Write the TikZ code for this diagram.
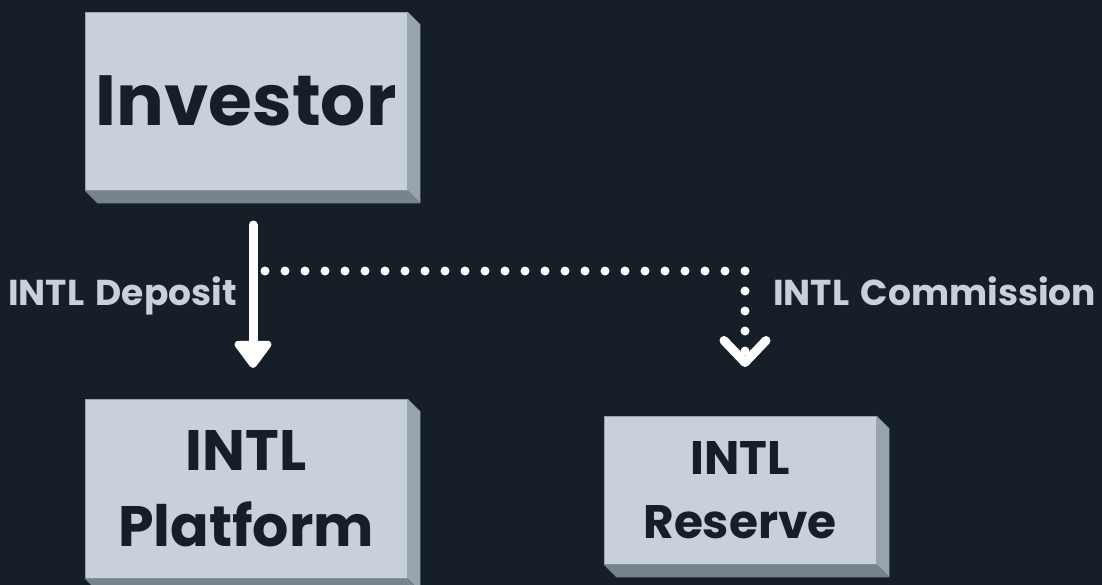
\documentclass[tikz,border=0pt]{standalone}
\usepackage{fontspec}
\setmainfont{Poppins}
\newfontfamily\labelfont{Poppins}[WordSpace=1.5]
\usetikzlibrary{calc,arrows.meta}

\definecolor{bg}{HTML}{161F28}
\definecolor{boxface}{HTML}{C8D0DA}
\definecolor{boxright}{HTML}{97A3AE}
\definecolor{boxbottom}{HTML}{77838D}
\definecolor{ink}{HTML}{161F28}

\tikzset{
  box/.style={fill=boxface,draw=boxright,line width=0.8pt,text=ink,inner sep=0pt,align=center,font=\bfseries},
  flowlabel/.style={text=boxface,inner sep=0pt,font=\labelfont\bfseries\fontsize{36}{40}\selectfont},
  flow/.style={white,line width=9pt,line cap=round,line join=round},
}
\newcommand\boxsides[1]{%
  \fill[boxright] (#1.north east) -- ++(13,13) -- ($(#1.south east)+(13,13)$) -- (#1.south east) -- cycle;
  \fill[boxbottom] (#1.south west) -- ++(13,13) -- ($(#1.south east)+(13,13)$) -- (#1.south east) -- cycle;}

\begin{document}
\begin{tikzpicture}[x=1pt,y=-1pt]
    \clip (0,0) rectangle (1102,585);
    \fill[bg] (0,0) rectangle (1102,585);

    % boxes
    \node[box,minimum width=322pt,minimum height=178pt,font=\bfseries\fontsize{71}{80}\selectfont] (investor) at (246,101) {Investor};
    \node[box,minimum width=322pt,minimum height=179pt,font=\bfseries\fontsize{57}{76}\selectfont] (platform) at (246,488.5) {INTL\\Platform};
    \node[box,minimum width=272pt,minimum height=148pt,font=\bfseries\fontsize{47}{64}\selectfont] (reserve) at (740,490) {INTL\\Reserve};
    \boxsides{investor}
    \boxsides{platform}
    \boxsides{reserve}

    % flows
    \coordinate (depstart) at (253,225);
    \coordinate (depend) at (253,368);
    \coordinate (comstart) at (265,271);
    \coordinate (comcorner) at (745,271);
    \coordinate (comend) at (745,367);
    \draw[flow,-{Triangle[length=30pt,width=42pt,round]}] (depstart)--(depend);
    \draw[flow,dash pattern=on 0pt off 20pt,-{Straight Barb[length=22pt,width=42pt,round]}] (comstart)--(comcorner)--(comend);

    \node[flowlabel,anchor=base east] (deplabel) at (237,305) {INTL Deposit};
    \node[flowlabel,anchor=base west] (comlabel) at (773,305) {INTL Commission};
\end{tikzpicture}
\end{document}
